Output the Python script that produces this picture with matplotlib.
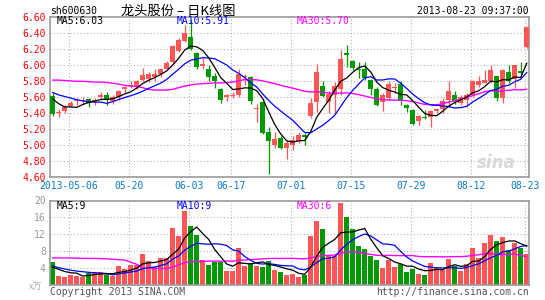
import matplotlib.pyplot as plt
import numpy as np
import pandas as pd

# daily K-line, 80 trading days ending 2013-08-23
opens = [5.61, 5.40, 5.43, 5.49, 5.55, 5.56, 5.575, 5.54, 5.60, 5.63,
         5.555, 5.60, 5.71, 5.74, 5.73, 5.82, 5.83, 5.85, 5.89, 5.96,
         6.045, 6.18, 6.30, 6.36, 6.16, 5.99, 5.95, 5.87, 5.70, 5.60,
         5.62, 5.63, 5.86, 5.86, 5.45, 5.54, 5.17, 5.00, 5.09, 4.96,
         5.01, 5.05, 5.13, 5.36, 5.54, 5.74, 5.54, 5.63, 5.70, 6.15,
         6.05, 5.96, 5.96, 5.82, 5.70, 5.54, 5.59, 5.72, 5.77, 5.51,
         5.44, 5.31, 5.35, 5.35, 5.43, 5.45, 5.57, 5.63, 5.53, 5.57,
         5.63, 5.76, 5.78, 5.80, 5.87, 5.59, 5.92, 5.83, 5.93, 6.23]
highs = [5.65, 5.45, 5.50, 5.55, 5.59, 5.60, 5.59, 5.59, 5.67, 5.67,
         5.63, 5.69, 5.74, 5.80, 5.82, 5.97, 5.92, 5.96, 5.97, 6.05,
         6.26, 6.34, 6.50, 6.58, 6.17, 6.09, 6.00, 5.90, 5.72, 5.64,
         5.67, 5.96, 5.89, 5.87, 5.52, 5.56, 5.23, 5.17, 5.11, 5.07,
         5.12, 5.17, 5.15, 5.59, 6.02, 5.80, 5.68, 5.79, 6.19, 6.25,
         6.07, 6.045, 6.04, 5.83, 5.73, 5.65, 5.80, 5.775, 5.80, 5.52,
         5.45, 5.38, 5.44, 5.44, 5.46, 5.59, 5.80, 5.68, 5.63, 5.66,
         5.82, 5.87, 5.94, 6.00, 5.87, 5.95, 6.00, 6.00, 6.04, 6.48]
lows = [5.36, 5.35, 5.41, 5.48, 5.51, 5.52, 5.48, 5.51, 5.57, 5.50,
        5.52, 5.57, 5.65, 5.72, 5.71, 5.80, 5.79, 5.81, 5.86, 5.95,
        6.02, 6.17, 6.29, 6.19, 5.96, 5.96, 5.81, 5.72, 5.53, 5.56,
        5.59, 5.61, 5.76, 5.52, 5.29, 5.14, 4.64, 4.96, 4.95, 4.83,
        4.94, 5.03, 5.00, 5.34, 5.42, 5.61, 5.41, 5.41, 5.63, 5.98,
        5.94, 5.84, 5.82, 5.63, 5.49, 5.43, 5.57, 5.65, 5.51, 5.42,
        5.25, 5.26, 5.33, 5.23, 5.40, 5.40, 5.48, 5.52, 5.50, 5.48,
        5.61, 5.73, 5.775, 5.775, 5.555, 5.53, 5.775, 5.72, 5.84, 6.22]
closes = [5.39, 5.41, 5.48, 5.53, 5.56, 5.57, 5.535, 5.57, 5.63, 5.57,
          5.60, 5.68, 5.73, 5.76, 5.81, 5.88, 5.89, 5.89, 5.96, 6.03,
          6.245, 6.32, 6.40, 6.21, 5.98, 6.02, 5.86, 5.80, 5.57, 5.63,
          5.63, 5.89, 5.87, 5.56, 5.46, 5.15, 5.05, 5.08, 4.97, 5.03,
          5.07, 5.13, 5.10, 5.53, 5.92, 5.62, 5.64, 5.74, 6.08, 6.13,
          5.97, 5.94, 5.84, 5.70, 5.50, 5.63, 5.77, 5.73, 5.55, 5.47,
          5.27, 5.36, 5.34, 5.43, 5.45, 5.55, 5.68, 5.56, 5.60, 5.63,
          5.81, 5.81, 5.82, 5.94, 5.59, 5.94, 5.80, 6.00, 5.91, 6.48]
# volume, in units of 10k lots
volumes = [5.45, 2.13, 1.90, 2.37, 2.20, 2.00, 2.84, 3.00, 3.00, 2.37,
           2.13, 4.50, 3.87, 4.74, 4.66, 7.35, 5.60, 4.27, 6.48, 6.48,
           13.6, 11.7, 17.4, 14.0, 11.9, 5.90, 4.74, 5.40, 5.50, 3.30,
           3.30, 8.85, 4.58, 5.00, 4.58, 4.34, 5.70, 3.55, 3.16, 2.45,
           2.69, 1.97, 2.37, 11.69, 15.17, 13.35, 6.87, 6.87, 19.5, 16.1,
           13.35, 9.24, 8.61, 6.95, 5.92, 3.95, 5.92, 4.34, 4.98, 3.08,
           3.87, 2.61, 2.37, 5.29, 4.34, 3.55, 6.24, 4.58, 3.40, 4.98,
           8.85, 6.48, 9.95, 11.93, 10.43, 11.37, 8.37, 10.03, 8.77, 7.35]

# moving-average values at the left edge, before a full window exists
ma5_head = [5.58, 5.52, 5.48, 5.48]
ma10_head = [5.66, 5.63, 5.61, 5.59, 5.57, 5.555, 5.545, 5.54, 5.54]
ma30_head = [5.815, 5.815, 5.81, 5.805, 5.80, 5.80, 5.795, 5.79, 5.79, 5.785,
             5.775, 5.765, 5.75, 5.74, 5.735, 5.72, 5.70, 5.69, 5.69, 5.69,
             5.70, 5.72, 5.74, 5.755, 5.765, 5.77, 5.775, 5.78, 5.78]
vma5_head = [4.2, 3.7, 3.2, 2.9]
vma10_head = [4.5, 4.1, 3.8, 3.5, 3.3, 3.15, 3.0, 2.9, 2.8]
vma30_head = [6.4, 6.4, 6.4, 6.4, 6.35, 6.3, 6.3, 6.3, 6.25, 6.2,
              6.1, 6.0, 5.9, 5.4, 4.9, 4.0, 3.9, 3.9, 3.9, 3.9,
              4.2, 4.8, 5.3, 5.5, 5.6, 5.6, 5.65, 5.65, 5.65]

date_labels = ["2013-05-06", "05-20", "06-03", "06-17", "07-01",
               "07-15", "07-29", "08-12", "08-23"]
date_index = [3, 13, 23, 30, 40, 50, 60, 70, 79]

RED = "#ff5555"
GREEN = "#009900"
FRAME = "#999999"
GRID = "#b4b4b4"
MONO = "DejaVu Sans Mono"
CJK = ["Noto Sans CJK SC", "DejaVu Sans"]


def moving_average(values, n, head):
    ma = pd.Series(values).rolling(n).mean().to_numpy()
    ma[:len(head)] = head
    return ma


x = np.arange(len(closes))
o = np.array(opens)
c = np.array(closes)
up = c >= o
colors = np.where(up, RED, GREEN)

W, H = 545, 300
fig = plt.figure(figsize=(W / 100, H / 100), dpi=100)
fig.patch.set_facecolor("white")

ax = fig.add_axes([50 / W, 1 - 177.3 / H, 479 / W, 160 / H])
axv = fig.add_axes([50 / W, 1 - 285 / H, 479 / W, 84.5 / H])

xlim = (-0.45, 79.38)
grid_x = [d - 0.33 for d in date_index]

for a in (ax, axv):
    a.set_xlim(*xlim)
    for s in a.spines.values():
        s.set_color(FRAME)
        s.set_linewidth(1.2)
    a.set_axisbelow(True)
    a.tick_params(length=0)
    for gx in grid_x:
        a.axvline(gx, color=GRID, lw=0.8, ls=(0, (1, 2)), zorder=0)

# price panel
ax.set_ylim(4.6, 6.6)
yt = np.arange(4.6, 6.61, 0.2)
ax.set_yticks(yt)
ax.set_yticklabels([f"{v:.2f}" for v in yt], color="#ff0000",
                   family=MONO, fontsize=7)
for v in yt[1:-1]:
    ax.axhline(v, color=GRID, lw=0.8, ls=(0, (1, 2)), zorder=0)
ax.set_xticks(grid_x)
ax.set_xticklabels(date_labels, color="#0a78cc", family=MONO, fontsize=7)
ax.tick_params(axis="x", pad=3)
ax.tick_params(axis="y", pad=3)

ax.vlines(x, lows, highs, colors=colors, lw=0.9, zorder=2)
body_low = np.minimum(o, c)
body_h = np.maximum(np.abs(c - o), 0.012)
ax.bar(x, body_h, bottom=body_low, width=0.85, color=colors,
       linewidth=0, zorder=3)

ma5 = moving_average(closes, 5, ma5_head)
ma10 = moving_average(closes, 10, ma10_head)
ma30 = moving_average(closes, 30, ma30_head)
ax.plot(x, ma30, color="#ff00ff", lw=1.0, zorder=4)
ax.plot(x, ma10, color="#0000ff", lw=0.9, zorder=4)
ax.plot(x, ma5, color="black", lw=0.9, zorder=4)

ax.text(0.6, 6.55, f"MA5:{ma5[-1]:.2f}", family=MONO, fontsize=7,
        color="black", va="center")
ax.text(20.6, 6.55, f"MA10:{ma10[-1]:.2f}", family=MONO, fontsize=7,
        color="#0000ff", va="center")
ax.text(40.6, 6.55, f"MA30:{ma30[-1]:.2f}", family=MONO, fontsize=7,
        color="#ff00ff", va="center")
ax.text(77.2, 4.78, "sina", fontsize=12, color="#d8d8d8", style="italic",
        weight="bold", ha="right", va="center", zorder=1)

# volume panel
axv.set_ylim(0, 20)
axv.set_yticks([0, 4, 8, 12, 16, 20])
axv.set_yticklabels(["", "4", "8", "12", "16", "20"], color="#999999",
                    family=MONO, fontsize=7)
for v in [4, 8, 12, 16]:
    axv.axhline(v, color=GRID, lw=0.8, ls=(0, (1, 2)), zorder=0)
axv.set_xticks(grid_x)
axv.set_xticklabels([])
axv.tick_params(axis="y", pad=3)

axv.bar(x, volumes, width=0.88, color=colors, linewidth=0, zorder=2)
vma5 = moving_average(volumes, 5, vma5_head)
vma10 = moving_average(volumes, 10, vma10_head)
vma30 = moving_average(volumes, 30, vma30_head)
axv.plot(x, vma30, color="#ff00ff", lw=1.0, zorder=4)
axv.plot(x, vma10, color="#0000ff", lw=0.9, zorder=4)
axv.plot(x, vma5, color="black", lw=0.9, zorder=4)

# volume averages are shown truncated to whole units
axv.text(0.6, 18.8, f"MA5:{int(vma5[-1])}", family=MONO, fontsize=7,
         color="black", va="center")
axv.text(20.6, 18.8, f"MA10:{int(vma10[-1])}", family=MONO, fontsize=7,
         color="#0000ff", va="center")
axv.text(40.6, 18.8, f"MA30:{int(vma30[-1])}", family=MONO, fontsize=7,
         color="#ff00ff", va="center")

# header and footer texts
fig.text(50 / W, 1 - 11 / H, "sh600630", family=MONO, fontsize=7,
         va="center")
fig.text(178 / W, 1 - 11 / H, "龙头股份 – 日K线图", family=CJK,
         fontsize=9.5, ha="center", va="center")
fig.text(529 / W, 1 - 11 / H, "2013-08-23 09:37:00", family=MONO,
         fontsize=7, ha="right", va="center")
fig.text(36 / W, 1 - 287 / H, "x万", family=CJK,
         fontsize=6.5, color="#aaaaaa", ha="center", va="center")
fig.text(50 / W, 1 - 292 / H, "Copyright 2013 SINA.COM", family=MONO,
         fontsize=7, color="#555555", va="center")
fig.text(529 / W, 1 - 292 / H, "http://finance.sina.com.cn", family=MONO,
         fontsize=7, color="#555555", ha="right", va="center")

fig.savefig("out.png", dpi=100)
